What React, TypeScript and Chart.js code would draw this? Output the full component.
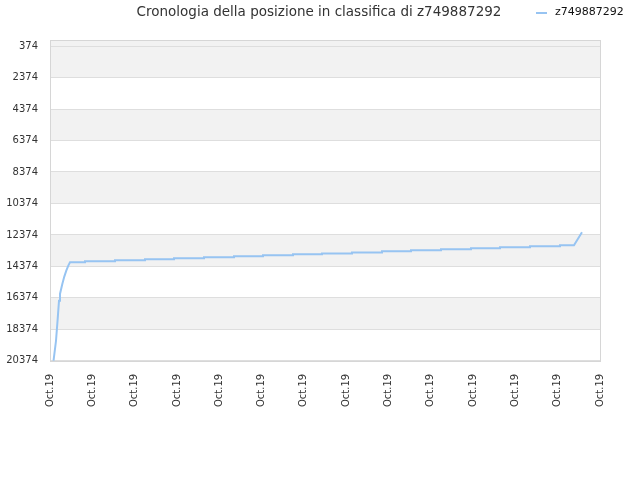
import React, { useEffect, useRef } from "react";
import { Chart, registerables } from "chart.js";

Chart.register(...registerables);

const seriesLabel = "z749887292";
const titleText = "Cronologia della posizione in classifica di z749887292";

// x positions are in "tick units" (0..13, one unit per Oct.19 label)
const xTickLabels = [
  "Oct.19", "Oct.19", "Oct.19", "Oct.19", "Oct.19", "Oct.19", "Oct.19",
  "Oct.19", "Oct.19", "Oct.19", "Oct.19", "Oct.19", "Oct.19", "Oct.19",
];
const yTickValues = [374, 2374, 4374, 6374, 8374, 10374, 12374, 14374, 16374, 18374, 20374];

// initial steep climb
const riseX = [0.083, 0.142, 0.182, 0.213, 0.236, 0.291, 0.338, 0.385, 0.433];
const riseRank = [20374, 19100, 17698, 16552, 16127, 15488, 15023, 14641, 14322];

// plateau steps (start position of each step and its rank)
const stepStartX = [
  0.473, 0.827, 1.536, 2.245, 2.931, 3.64, 4.349, 5.034, 5.743,
  6.429, 7.138, 7.847, 8.532, 9.241, 9.95, 10.636, 11.345, 12.054,
];
const stepRank = [
  14112, 14048, 13984, 13921, 13857, 13793, 13730, 13666, 13602,
  13558, 13494, 13411, 13348, 13284, 13220, 13157, 13093, 13029,
];
const lastStepEndX = 12.385;

// final jump
const finalX = [12.574];
const finalRank = [12201];

const lineColor = "#97c4f2";

function buildPoints() {
  const pts: { x: number; y: number }[] = [];
  riseX.forEach((x, i) => pts.push({ x, y: riseRank[i] }));
  stepStartX.forEach((x, i) => {
    const end = i + 1 < stepStartX.length ? stepStartX[i + 1] : lastStepEndX;
    pts.push({ x, y: stepRank[i] });
    pts.push({ x: end, y: stepRank[i] });
  });
  finalX.forEach((x, i) => pts.push({ x, y: finalRank[i] }));
  return pts;
}

const bandsPlugin = {
  id: "bands",
  beforeDraw(chart: any) {
    const { ctx, chartArea } = chart;
    const y = chart.scales.y;
    ctx.save();
    ctx.fillStyle = "#f2f2f2";
    for (let k = 0; k < yTickValues.length - 1; k += 2) {
      const top = k === 0 ? chartArea.top : y.getPixelForValue(yTickValues[k]);
      const bottom = y.getPixelForValue(yTickValues[k + 1]);
      ctx.fillRect(chartArea.left, top, chartArea.right - chartArea.left, bottom - top);
    }
    ctx.restore();
  },
  afterDatasetsDraw(chart: any) {
    const { ctx, chartArea } = chart;
    ctx.save();
    ctx.strokeStyle = "#d6d6d6";
    ctx.lineWidth = 1;
    ctx.strokeRect(
      Math.round(chartArea.left) + 0.5,
      Math.round(chartArea.top) + 0.5,
      Math.round(chartArea.right - chartArea.left),
      Math.round(chartArea.bottom - chartArea.top)
    );
    ctx.restore();
  },
  afterDraw(chart: any) {
    const { ctx } = chart;
    const w = chart.width;
    ctx.save();
    ctx.strokeStyle = lineColor;
    ctx.lineWidth = 2;
    ctx.beginPath();
    ctx.moveTo(w - 104, 13);
    ctx.lineTo(w - 93, 13);
    ctx.stroke();
    ctx.fillStyle = "#111";
    ctx.font = "11px 'DejaVu Sans'";
    ctx.textBaseline = "middle";
    ctx.textAlign = "left";
    ctx.fillText(seriesLabel, w - 85, 12.5);
    ctx.restore();
  },
};

export default function App() {
  const ref = useRef<HTMLCanvasElement | null>(null);

  useEffect(() => {
    if (!ref.current) return;
    Chart.defaults.font.family = "'DejaVu Sans'";
    const chart = new Chart(ref.current, {
      type: "line",
      data: {
        datasets: [
          {
            label: seriesLabel,
            data: buildPoints(),
            borderColor: lineColor,
            backgroundColor: lineColor,
            borderWidth: 2,
            pointRadius: 0,
            tension: 0,
            fill: false,
          },
        ],
      },
      options: {
        animation: false,
        responsive: false,
        devicePixelRatio: 1,
        layout: { padding: { left: 6, right: 8, top: 0, bottom: 60 } },
        plugins: {
          legend: { display: false },
          tooltip: { enabled: false },
          title: {
            display: true,
            text: titleText,
            color: "#333",
            font: { family: "'DejaVu Sans'", size: 13.5, weight: "normal" },
            padding: { top: 4, bottom: 20 },
          },
        },
        scales: {
          x: {
            type: "linear",
            min: 0,
            max: xTickLabels.length - 1,
            grid: { display: false, drawTicks: false },
            border: { display: false },
            afterBuildTicks: (scale: any) => {
              scale.ticks = xTickLabels.map((_, i) => ({ value: i }));
            },
            ticks: {
              autoSkip: false,
              maxRotation: 90,
              minRotation: 90,
              padding: 13,
              color: "#333",
              font: { size: 10 },
              callback: (v: any) => xTickLabels[Math.round(Number(v))],
            },
          },
          y: {
            type: "linear",
            reverse: true,
            min: 0,
            max: 20374,
            afterBuildTicks: (scale: any) => {
              scale.ticks = yTickValues.map((v) => ({ value: v }));
            },
            afterFit: (scale: any) => {
              scale.width = 44;
            },
            grid: { color: "#dedede", drawTicks: false, lineWidth: 1 },
            border: { display: false },
            ticks: {
              padding: 12,
              color: "#333",
              font: { size: 10 },
              callback: (v: any) => String(v),
            },
          },
          yRightSpace: {
            type: "linear",
            position: "right",
            display: true,
            grid: { display: false, drawTicks: false },
            border: { display: false },
            ticks: { display: false },
            afterFit: (scale: any) => {
              scale.width = 32;
            },
          },
        },
      },
      plugins: [bandsPlugin],
    } as any);
    return () => chart.destroy();
  }, []);

  return (
    <div style={{ position: "absolute", left: 0, top: 0, width: 640, height: 480, background: "#fff" }}>
      <canvas ref={ref} width={640} height={480} style={{ display: "block" }} />
    </div>
  );
}
